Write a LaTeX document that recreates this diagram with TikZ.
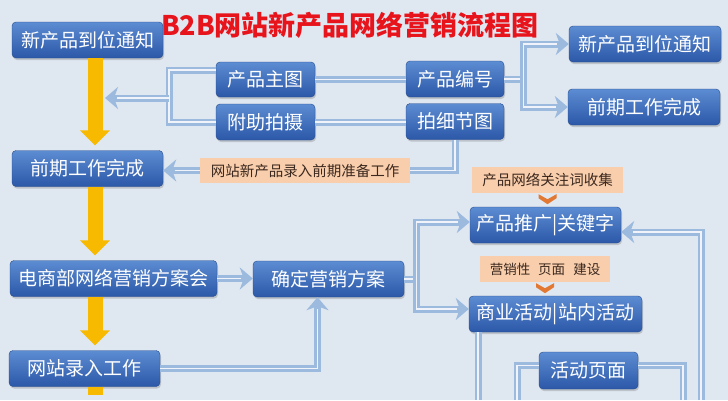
\documentclass[tikz,border=0pt]{standalone}
\usepackage{fontspec}
\newfontfamily\cjk{Noto Sans CJK SC}
\usetikzlibrary{arrows.meta,shadows}
\definecolor{bgblue}{RGB}{223,231,241}
\definecolor{boxtop}{RGB}{92,140,210}
\definecolor{boxbot}{RGB}{44,88,168}
\definecolor{boxedge}{RGB}{38,76,140}
\definecolor{connblue}{RGB}{156,186,222}
\definecolor{flowgold}{RGB}{248,186,0}
\definecolor{notepeach}{RGB}{248,206,172}
\definecolor{notetext}{RGB}{60,40,30}
\definecolor{noteorange}{RGB}{226,120,50}
\definecolor{titlered}{RGB}{232,20,28}
\begin{document}
\begin{tikzpicture}[x=1pt, y=-1pt,
  stepbox/.style={rounded corners=4pt, top color=boxtop, bottom color=boxbot, draw=boxedge, text=white, inner sep=1pt, minimum height=36pt, font=\cjk\fontsize{19}{20}\selectfont, drop shadow={shadow xshift=1pt, shadow yshift=-2pt, opacity=0.35}},
  note/.style={fill=notepeach, text=notetext, inner sep=2pt, minimum height=25pt, font=\cjk\fontsize{14.5}{16}\selectfont},
  flow/.style={draw=flowgold, line width=15pt, -{Triangle[width=29pt,length=15pt]}, shorten >=5pt},
  conn/.style={draw=connblue, line width=7pt, postaction={draw=white, line width=1.2pt, opacity=0.85}},
  connarrow/.style={draw=connblue, line width=7pt, -{Stealth[width=22pt,length=13pt,inset=4pt]}, postaction={draw=white, line width=1.2pt, opacity=0.85, -, shorten >=12pt}}]
\useasboundingbox (0,0) rectangle (728,400);
\clip (0,0) rectangle (728,400);
\fill[bgblue] (0,0) rectangle (728,400);

\node[font=\cjk\bfseries\fontsize{27}{30}\selectfont, text=titlered] (title) at (350,25) {B2B网站新产品网络营销流程图};

\node[stepbox, minimum width=151pt] (arrive) at (87.5,40) {新产品到位通知};
\node[stepbox, minimum width=99pt, minimum height=35pt] (mainpic) at (265.5,79.5) {产品主图};
\node[stepbox, minimum width=99pt] (assist) at (265.5,122) {附助拍摄};
\node[stepbox, minimum width=98pt] (code) at (455,79) {产品编号};
\node[stepbox, minimum width=98pt] (detail) at (455,121.5) {拍细节图};
\node[stepbox, minimum width=152pt] (arriveR) at (645,44) {新产品到位通知};
\node[stepbox, minimum width=152pt] (prepR) at (644,107) {前期工作完成};
\node[stepbox, minimum width=151pt] (prep) at (87.5,168.5) {前期工作完成};
\node[note, minimum width=210pt] (entrynote) at (305,170.5) {网站新产品录入前期准备工作};
\node[note, minimum width=151pt, minimum height=26pt] (wordnote) at (547.5,180) {产品网络关注词收集};
\node[stepbox, minimum width=151pt] (promo) at (545.5,225) {产品推广|关键字};
\node[note, minimum width=130pt, minimum height=26pt, font=\cjk\fontsize{13.5}{15}\selectfont] (pagenote) at (545,269) {营销性\hspace{8pt}页面\hspace{8pt}建设};
\node[stepbox, minimum width=173pt] (biz) at (555.5,314) {商业活动|站内活动};
\node[stepbox, minimum width=99pt, minimum height=37pt] (actpage) at (588.5,370.5) {活动页面};
\node[stepbox, minimum width=207pt] (meeting) at (113.5,278.5) {电商部网络营销方案会};
\node[stepbox, minimum width=151pt] (plan) at (328.5,279) {确定营销方案};
\node[stepbox, minimum width=151pt] (entry) at (84.5,368.5) {网站录入工作};

\coordinate (axisend) at (95,400);
\draw[flow] (arrive.south -| axisend) -- (prep.north -| axisend);
\draw[flow] (prep.south -| axisend) -- (meeting.north -| axisend);
\draw[flow] (meeting.south -| axisend) -- (entry.north -| axisend);
\draw[flow, -] (entry.south -| axisend) -- (axisend);

\coordinate (leftjoin) at (169,98);
\coordinate (leftend) at (105,98);
\draw[conn] ([yshift=9.5pt]mainpic.west) -| (leftjoin) |- (assist.west);
\draw[connarrow] (leftjoin) -- (leftend);
\draw[conn] (mainpic.east) -- (mainpic.east -| code.west);
\draw[conn] (assist.east) -- (assist.east -| detail.west);
\draw[conn] (code.east) -- ++(19,0) coordinate (rightjoin);
\draw[connarrow] (rightjoin) |- (arriveR.west);
\draw[connarrow] (rightjoin) |- (prepR.west);
\draw[conn] (detail.south) |- (entrynote.east);
\draw[connarrow] (entrynote.west) -- (entrynote.west -| prep.east);

\draw[connarrow] (meeting.east) -- (meeting.east -| plan.west);
\draw[connarrow] (entry.east) -| ([xshift=-11pt]plan.south);
\draw[conn] (plan.east) -- ++(12,0) coordinate (planjoin);
\draw[connarrow] (planjoin) |- ([yshift=3pt]promo.west);
\draw[connarrow] (planjoin) |- ([yshift=5pt]biz.west);
\coordinate (returnfoot) at (701,400);
\draw[connarrow] (returnfoot) |- ([yshift=-7pt]promo.east);
\coordinate (bizfoot) at (478,400);
\draw[conn] (biz.south -| bizfoot) -- (bizfoot);
\coordinate (pageleft) at (517,400);
\coordinate (pageright) at (683,400);
\draw[conn] ([yshift=5pt]actpage.west) -| (pageleft);
\draw[conn] ([yshift=5pt]actpage.east) -| (pageright);

\fill[noteorange] ([shift={(-9,1)}]wordnote.south) -- ++(9,5) -- ++(9,-5) -- ++(0,4) -- ++(-9,6) -- ++(-9,-6) -- cycle;
\fill[noteorange] ([shift={(-9,1)}]pagenote.south) -- ++(9,5) -- ++(9,-5) -- ++(0,4) -- ++(-9,6) -- ++(-9,-6) -- cycle;
\end{tikzpicture}
\end{document}
